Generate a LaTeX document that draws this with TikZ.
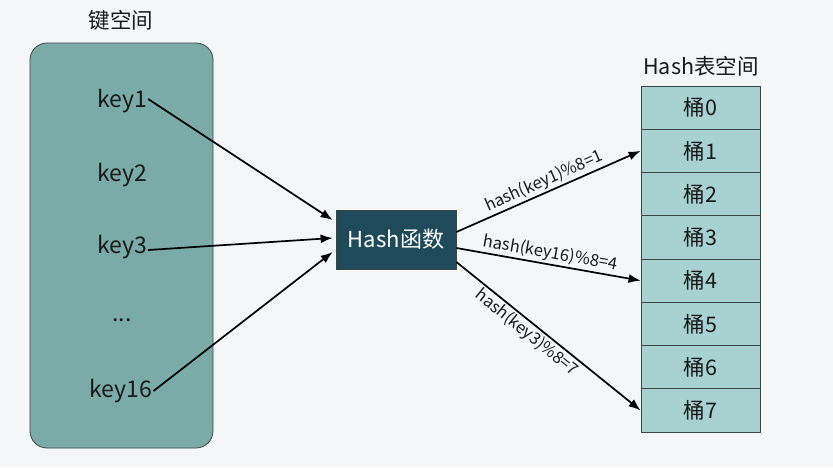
\documentclass[tikz,border=0pt]{standalone}
\usepackage{fontspec}
\setmainfont{Noto Sans CJK SC}
\usetikzlibrary{arrows.meta,calc}
\definecolor{bgc}{HTML}{F4F6F7}
\definecolor{keyfill}{HTML}{7AABA9}
\definecolor{hashfill}{HTML}{1E4A5A}
\definecolor{bucketfill}{HTML}{A8D1D1}
\definecolor{edgec}{HTML}{3C4646}
\definecolor{txt}{HTML}{1A1A1A}
\tikzset{
  keytxt/.style={font=\fontsize{23}{27}\selectfont, text=txt, inner sep=1pt},
  title/.style={font=\fontsize{21.5}{25}\selectfont, text=txt},
  bucket/.style={draw=edgec, line width=0.8pt, fill=bucketfill, minimum width=119pt, minimum height=43.25pt, inner sep=0pt, font=\fontsize{21.5}{25}\selectfont, text=txt},
  arr/.style={line width=1.7pt, draw=black, -{Latex[length=12pt,width=9pt]}},
  lab/.style={font=\fontsize{16.5}{19}\selectfont, text=txt, sloped, inner sep=1.5pt},
}
\begin{document}
\begin{tikzpicture}[x=1pt,y=-1pt]
\useasboundingbox (0,0) rectangle (833,467);
\fill[bgc] (0,0) rectangle (833,467);
% key space
\node[title] (kst) at (121,20) {键空间};
\draw[edgec, line width=0.8pt, fill=keyfill, rounded corners=17pt] (30,43) rectangle (213,448);
\node[keytxt] (k1) at (122,101) {key1};
\node[keytxt] (k2) at (122,175) {key2};
\node[keytxt] (k3) at (122,247) {key3};
\node[keytxt] (kd) at (122,320) {...};
\node[keytxt] (k16) at (121,391) {key16};
% hash function
\node[draw=edgec, line width=0.8pt, fill=hashfill, minimum width=120pt, minimum height=59pt, inner sep=0pt, text=white, font=\fontsize{22}{26}\selectfont] (hash) at (396,239.5) {Hash函数};
% buckets
\node[title] (hst) at (701,66) {Hash表空间};
\foreach \i in {0,...,7}{
  \node[bucket] (b\i) at (700.5,{86+43.25*(\i+0.5)}) {桶\i};
}
% arrows in
\draw[arr] ($(k1.east)+(0,-2)$) -- ($(hash.west)+(-3,-19.5)$);
\draw[arr] ($(k3.east)+(0,3)$) -- ($(hash.west)+(-3,-1.5)$);
\draw[arr] (k16.east) -- ($(hash.west)+(-3,12.5)$);
% arrows out
\draw[arr] ($(hash.east)+(0,-7.5)$) -- node[lab, above] {hash(key1)\%8=1} (b1.west);
\draw[arr] ($(hash.east)+(0,8.5)$) -- node[lab, above] {hash(key16)\%8=4} (b4.west);
\draw[arr] ($(hash.east)+(0,22.5)$) -- node[lab, below, pos=0.42] {hash(key3)\%8=7} (b7.west);
\end{tikzpicture}
\end{document}
